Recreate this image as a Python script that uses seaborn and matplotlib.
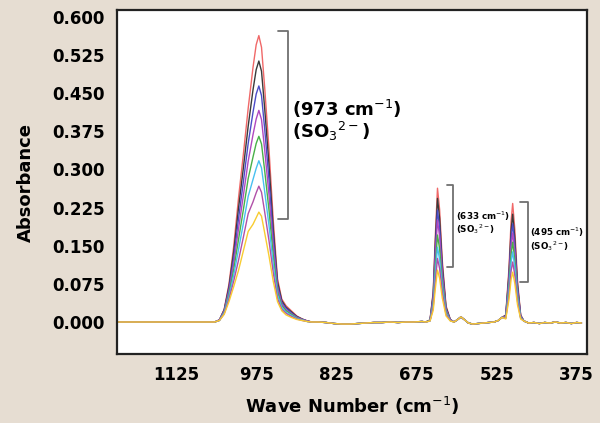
import numpy as np
import pandas as pd
import matplotlib
matplotlib.use("Agg")
import matplotlib.pyplot as plt
import seaborn as sns
from matplotlib.ticker import MultipleLocator, FixedLocator, FuncFormatter, NullFormatter

# Данные
series_names = ['s1', 's2', 's3', 's4', 's5', 's6', 's7', 's8']
series_colors = ['#f06868', '#3a3a3a', '#4c4cc8', '#b048c0', '#48b048', '#48c0f0', '#b050a8', '#f8cc30']

# общие участки базовой линии
base0_wn = [1237, 1060]
base0_y = [0.0, 0.0]
base1_wn = [860, 845, 830, 815, 800, 785, 770, 755, 740, 725, 710, 695, 680, 665, 658]
base1_y = [0.0, -0.001, -0.003, -0.004, -0.004, -0.003, -0.002, -0.001, -0.001, 0.0, -0.001, 0.0, 0.0, 0.001, 0.0]
base2_wn = [605, 598, 592, 586, 578, 570, 560, 550, 540, 530, 522, 515]
base2_y = [0.0, 0.005, 0.010, 0.005, -0.002, -0.004, -0.003, -0.002, -0.001, 0.0, 0.003, 0.009]
base3_wn = [474, 465, 455, 445, 435, 425, 415, 405, 395, 385, 375, 366]
base3_y = [0.002, -0.002, -0.001, -0.003, -0.001, -0.002, 0.0, -0.002, -0.001, -0.003, -0.001, -0.002]

# пик 973
p1_wn = [1054, 1045, 1036, 1027, 1018, 1009, 1000, 991, 982, 976, 971, 966, 960, 952, 944, 936, 928, 920, 910, 900, 890, 880, 872]
p1_y = [
    [0, .004, .025, .075, .150, .245, .330, .420, .500, .545, .563, .540, .460, .340, .200, .085, .045, .032, .022, .012, .006, .002, 0],
    [0, .004, .024, .070, .139, .225, .303, .385, .456, .496, .513, .493, .419, .310, .183, .079, .042, .029, .020, .011, .006, .002, 0],
    [0, .004, .022, .065, .127, .204, .276, .351, .412, .448, .464, .445, .379, .280, .166, .072, .038, .027, .018, .010, .005, .002, 0],
    [0, .004, .021, .060, .116, .184, .249, .316, .368, .399, .416, .398, .338, .250, .149, .066, .035, .024, .016, .009, .005, .002, 0],
    [0, .003, .019, .055, .104, .163, .221, .282, .324, .351, .365, .350, .297, .220, .131, .059, .032, .022, .015, .008, .004, .001, 0],
    [0, .003, .018, .050, .093, .143, .194, .247, .280, .302, .317, .303, .256, .190, .114, .053, .029, .019, .013, .007, .004, .001, 0],
    [0, .003, .016, .045, .081, .122, .167, .213, .236, .254, .267, .255, .216, .160, .097, .046, .025, .017, .011, .006, .003, .001, 0],
    [0, .003, .015, .040, .070, .102, .140, .178, .192, .205, .216, .208, .175, .130, .080, .040, .022, .014, .009, .005, .003, .001, 0],
]

# пик 633
p2_wn = [650, 644, 640, 636, 632, 627, 620, 612]
p2_y = [
    [.004, .060, .171, .263, .221, .121, .032, .005],
    [.004, .056, .158, .243, .204, .112, .029, .005],
    [.003, .051, .143, .220, .185, .101, .026, .004],
    [.003, .046, .130, .200, .168, .092, .024, .004],
    [.003, .039, .111, .171, .144, .079, .021, .003],
    [.002, .034, .096, .147, .123, .068, .018, .003],
    [.002, .029, .081, .125, .105, .058, .015, .003],
    [.002, .023, .066, .102, .086, .047, .012, .002],
]

# пик 495
p3_wn = [508, 502, 498, 495, 491, 486, 480]
p3_y = [
    [.014, .105, .198, .233, .182, .082, .014],
    [.013, .095, .180, .212, .165, .074, .013],
    [.012, .087, .164, .193, .151, .068, .012],
    [.011, .079, .149, .175, .137, .061, .011],
    [.009, .071, .133, .157, .122, .055, .009],
    [.008, .062, .117, .138, .108, .048, .008],
    [.007, .053, .100, .118, .092, .041, .007],
    [.006, .044, .083, .098, .076, .034, .006],
]

# сборка длинной таблицы
rows = []
wn_all = base0_wn + p1_wn + base1_wn + p2_wn + base2_wn + p3_wn + base3_wn
for i, name in enumerate(series_names):
    y_all = base0_y + p1_y[i] + base1_y + p2_y[i] + base2_y + p3_y[i] + base3_y
    for order, (w, v) in enumerate(zip(wn_all, y_all)):
        rows.append({'wn': w, 'abs': v, 'series': name, 'order': order})
df = pd.DataFrame(rows)

sns.set_style('white')
plt.rcParams['font.family'] = ['DejaVu Sans']
plt.rcParams['text.color'] = 'black'
plt.rcParams['axes.labelcolor'] = 'black'
plt.rcParams['xtick.color'] = 'black'
plt.rcParams['ytick.color'] = 'black'
bg = '#e6ddd2'

fig = plt.figure(figsize=(6.0, 4.23), dpi=100, facecolor=bg)
ax = fig.add_axes([0.195, 0.163, 0.783, 0.813])
ax.set_facecolor('white')

sns.lineplot(data=df, x='wn', y='abs', hue='series', hue_order=series_names,
             palette=series_colors, sort=False, estimator=None, units='series',
             linewidth=1.0, legend=False, ax=ax)

ax.set_xlim(1237, 356)
ax.set_ylim(-0.063, 0.613)

# оси и деления
ax.xaxis.set_major_locator(FixedLocator([1200, 1050, 900, 750, 600, 450]))
ax.xaxis.set_major_formatter(NullFormatter())
ax.xaxis.set_minor_locator(MultipleLocator(12.5))
ax.xaxis.set_minor_formatter(FuncFormatter(
    lambda v, p: f'{int(round(v))}' if abs((v - 375) % 150) < 1e-6 or abs((v - 375) % 150 - 150) < 1e-6 else ''))
ax.yaxis.set_major_locator(MultipleLocator(0.075))
ax.yaxis.set_minor_locator(MultipleLocator(0.015))
ax.yaxis.set_major_formatter(FuncFormatter(lambda v, p: f'{v:.3f}'))

ax.tick_params(axis='both', which='major', direction='out', length=5, width=1, color='#333333')
ax.tick_params(axis='both', which='minor', direction='out', length=2.5, width=0.8, color='#333333')
ax.tick_params(axis='x', which='minor', labelsize=12, pad=6, labelcolor='black')
ax.tick_params(axis='y', which='major', labelsize=12, pad=4, labelcolor='black')
for lab in ax.get_xticklabels(minor=True) + ax.get_yticklabels():
    lab.set_fontweight('bold')

for sp in ax.spines.values():
    sp.set_visible(True)
    sp.set_color('#222222')
    sp.set_linewidth(1.6)

ax.set_xlabel('Wave Number (cm$^{-1}$)', fontsize=13, fontweight='bold', labelpad=8)
ax.set_ylabel('Absorbance', fontsize=13, fontweight='bold', labelpad=12)

# скобки и подписи пиков
def bracket(x_hook, x_line, y_top, y_bot):
    ax.plot([x_hook, x_line, x_line, x_hook], [y_top, y_top, y_bot, y_bot],
            color='#707070', linewidth=1.3, solid_joinstyle='round')

bracket(936, 917, 0.573, 0.202)
ax.text(908, 0.418, '(973 cm$^{-1}$)', fontsize=13, fontweight='bold', va='center', ha='left')
ax.text(908, 0.375, '(SO$_3$$^{2-}$)', fontsize=13, fontweight='bold', va='center', ha='left')

bracket(619, 606, 0.269, 0.108)
ax.text(601, 0.208, '(633 cm$^{-1}$)', fontsize=6.3, fontweight='bold', va='center', ha='left')
ax.text(601, 0.183, '(SO$_3$$^{2-}$)', fontsize=6.3, fontweight='bold', va='center', ha='left')

bracket(482, 467, 0.236, 0.0785)
ax.text(463, 0.177, '(495 cm$^{-1}$)', fontsize=6.3, fontweight='bold', va='center', ha='left')
ax.text(463, 0.150, '(SO$_3$$^{2-}$)', fontsize=6.3, fontweight='bold', va='center', ha='left')

fig.savefig('out.png', dpi=100, facecolor=bg)
